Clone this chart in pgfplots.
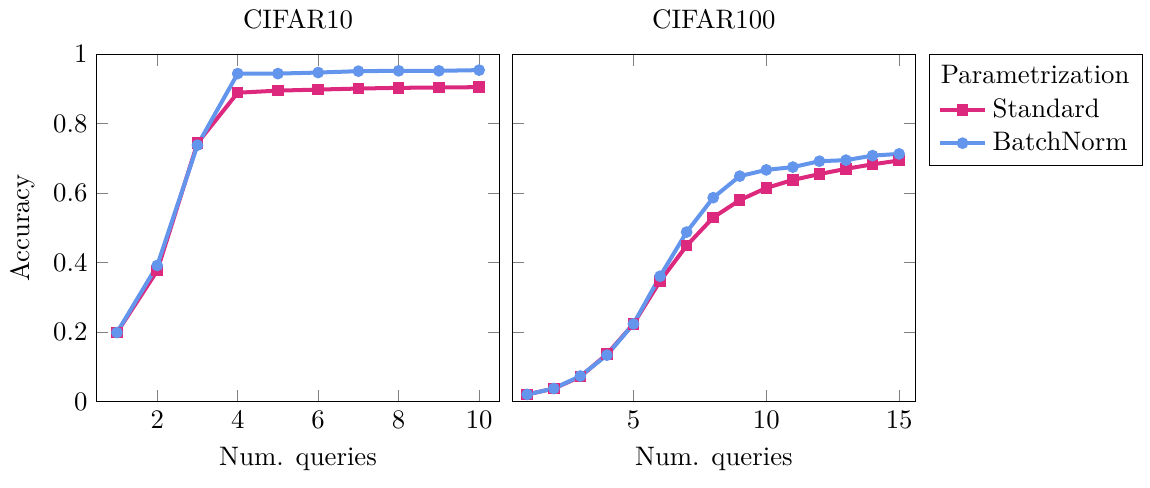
\documentclass[border=0pt]{standalone}
\usepackage{pgfplots}
\pgfplotsset{compat=1.18}
\usepgfplotslibrary{groupplots}
\definecolor{stdcol}{RGB}{220,40,125}
\definecolor{bncol}{RGB}{100,149,237}
\begin{document}
\begin{tikzpicture}
  \begin{groupplot}[
    group style={group size=2 by 1, horizontal sep=5pt, y descriptions at=edge left},
    scale only axis,
    width=150.5pt, height=130pt,
    ymin=0, ymax=1,
    ytick={0,0.2,0.4,0.6,0.8,1},
    xlabel={Num. queries},
    every axis plot/.append style={line width=1.5pt, mark size=1.4pt},
  ]
  \nextgroupplot[title={CIFAR10}, ylabel={Accuracy}, xmin=0.5, xmax=10.5, xtick={2,4,6,8,10}]
  \addplot[stdcol, mark=square*] coordinates {
    (1,0.199) (2,0.377) (3,0.744) (4,0.889) (5,0.895) (6,0.898) (7,0.901) (8,0.903) (9,0.904) (10,0.905)
  };
  \addplot[bncol, mark=*] coordinates {
    (1,0.199) (2,0.392) (3,0.738) (4,0.944) (5,0.944) (6,0.947) (7,0.951) (8,0.952) (9,0.952) (10,0.954)
  };
  \nextgroupplot[title={CIFAR100}, xmin=0.45, xmax=15.6, xtick={5,10,15},
    legend style={at={(1.035,1)}, anchor=north west, cells={anchor=west}}]
  \addlegendimage{empty legend}
  \addlegendentry{\hspace{-0.68cm}Parametrization}
  \addplot[stdcol, mark=square*] coordinates {
    (1,0.021) (2,0.038) (3,0.072) (4,0.137) (5,0.224) (6,0.347) (7,0.449) (8,0.530) (9,0.580) (10,0.615) (11,0.638) (12,0.655) (13,0.670) (14,0.683) (15,0.694)
  };
  \addlegendentry{Standard}
  \addplot[bncol, mark=*] coordinates {
    (1,0.021) (2,0.038) (3,0.074) (4,0.134) (5,0.224) (6,0.361) (7,0.488) (8,0.587) (9,0.649) (10,0.667) (11,0.675) (12,0.692) (13,0.695) (14,0.708) (15,0.713)
  };
  \addlegendentry{BatchNorm}
  \end{groupplot}
  % a little white margin round the picture
  \path ([shift={(-0.5pt,-3pt)}]current bounding box.south west) rectangle ([shift={(2.5pt,0pt)}]current bounding box.north east);
\end{tikzpicture}
\end{document}
